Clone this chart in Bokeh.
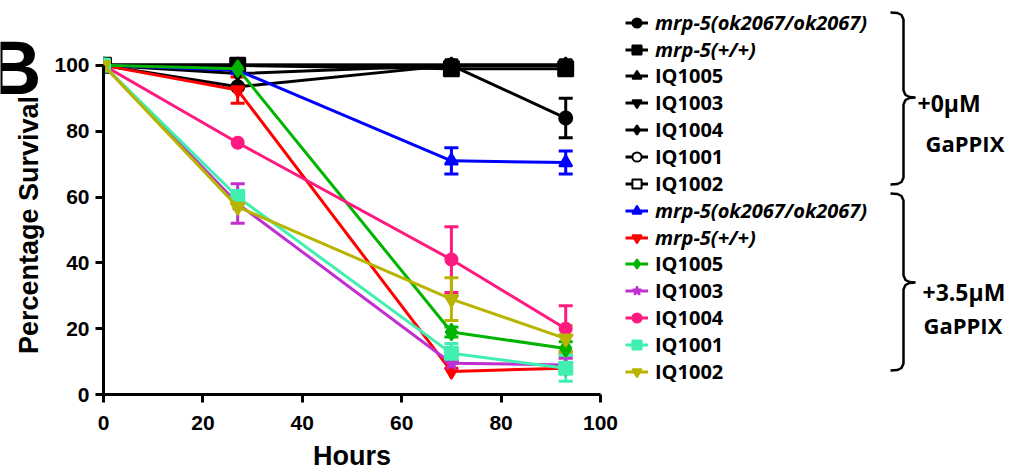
import math
from bokeh.plotting import figure
from bokeh.layouts import row
from bokeh.models import (Range1d, FixedTicker, ColumnDataSource, Whisker, TeeHead,
                          Legend, LegendItem, Label)
from bokeh.core.properties import value
from bokeh.embed import file_html
from bokeh.resources import INLINE

# ---------------- data ----------------
hours = [0, 27, 70, 93]

names_0 = ["mrp-5(ok2067/ok2067)", "mrp-5(+/+)", "IQ1005", "IQ1003", "IQ1004", "IQ1001", "IQ1002"]
names_35 = ["mrp-5(ok2067/ok2067)", "mrp-5(+/+)", "IQ1005", "IQ1003", "IQ1004", "IQ1001", "IQ1002"]

# +0 uM GaPPIX
ok2067_0 = [100, 93.5, 100, 84]
ok2067_0_err = [0, 0, 0, 6]
wt_0 = [100, 100, 99, 99]
wt_0_err = [0, 0, 0, 0]
iq1005_0 = [100, 100, 100, 100]
iq1005_0_err = [0, 0, 0, 0]
iq1003_0 = [100, 97.5, 100, 100]
iq1003_0_err = [0, 0, 0, 0]
iq1004_0 = [100, 100, 100, 100]
iq1004_0_err = [0, 0, 0, 0]
iq1001_0 = [100, 100, 100, 100]
iq1001_0_err = [0, 0, 0, 0]
iq1002_0 = [100, 100, 100, 100]
iq1002_0_err = [0, 0, 0, 0]

# +3.5 uM GaPPIX
ok2067_35 = [100, 98.5, 71, 70.5]
ok2067_35_err = [0, 0, 4, 3.5]
wt_35 = [100, 92.5, 7, 8]
wt_35_err = [0, 4, 0, 0]
iq1005_35 = [100, 99, 19, 14]
iq1005_35_err = [0, 0, 1.5, 2]
iq1003_35 = [100, 58, 9.5, 9]
iq1003_35_err = [0, 6, 0, 2]
iq1004_35 = [100, 76.5, 41, 20]
iq1004_35_err = [0, 0, 10, 7]
iq1001_35 = [100, 60, 12.5, 8]
iq1001_35_err = [0, 2, 3, 4]
iq1002_35 = [100, 57, 29, 17]
iq1002_35_err = [0, 0, 6.5, 4]

x_ticks = [0, 20, 40, 60, 80, 100]
y_ticks = [0, 20, 40, 60, 80, 100]

panel_letter = "B"
x_title = "Hours"
y_title = "Percentage Survival"
group_labels = [("+0\u00b5M", "GaPPIX"), ("+3.5\u00b5M", "GaPPIX")]

# styles: (values, errors, colour, marker, fill, size)
series_0 = [
    (ok2067_0, ok2067_0_err, "black", "circle", "black", 13),
    (wt_0, wt_0_err, "black", "square", "black", 15),
    (iq1005_0, iq1005_0_err, "black", "triangle", "black", 13),
    (iq1003_0, iq1003_0_err, "black", "inverted_triangle", "black", 13),
    (iq1004_0, iq1004_0_err, "black", "diamond", "black", 16),
    (iq1001_0, iq1001_0_err, "black", "circle", "white", 11),
    (iq1002_0, iq1002_0_err, "black", "square", "white", 12),
]
series_35 = [
    (ok2067_35, ok2067_35_err, "#0000ff", "triangle", "#0000ff", 13),
    (wt_35, wt_35_err, "#ff0000", "inverted_triangle", "#ff0000", 13),
    (iq1005_35, iq1005_35_err, "#00b400", "diamond", "#00b400", 17),
    (iq1003_35, iq1003_35_err, "#c030d0", "star", "#c030d0", 15),
    (iq1004_35, iq1004_35_err, "#ff1a80", "circle", "#ff1a80", 12),
    (iq1001_35, iq1001_35_err, "#40f0b0", "square", "#40f0b0", 13),
    (iq1002_35, iq1002_35_err, "#b8b400", "inverted_triangle", "#b8b400", 14),
]

# ---------------- layout sizes ----------------
W, H = 1018, 476
LW = 45             # left strip: panel letter + y title
MID_W = 580         # chart
RW = W - LW - MID_W # legend / brackets
FR_L, FR_R = 103, 600
FR_T, FR_B = 55, 394

def no_align(fig):
    try:
        fig.frame_align = False
    except Exception:
        pass

def bare(fig):
    fig.outline_line_color = None
    fig.grid.visible = False
    fig.background_fill_color = None
    fig.border_fill_color = None
    no_align(fig)

# ---------------- left strip ----------------
pl = figure(width=LW, height=H, output_backend="svg", toolbar_location=None,
            title=None,
            x_range=Range1d(0, LW), y_range=Range1d(0, H),
            x_axis_type=None, y_axis_type=None,
            min_border=0, min_border_left=0, min_border_right=0,
            min_border_top=0, min_border_bottom=0)
bare(pl)
pl.text(x=[-14], y=[H - 67], text=[panel_letter], text_font=value("Liberation Sans"),
        text_font_style="bold", text_font_size="76px", text_color="black",
        text_baseline="alphabetic", text_align="left")
pl.text(x=[28], y=[H - (FR_T + FR_B) / 2], text=[y_title], angle=math.pi / 2,
        text_font=value("Liberation Sans"), text_font_style="bold",
        text_font_size="27px", text_color="black",
        text_baseline="alphabetic", text_align="center")

# ---------------- main chart ----------------
p = figure(width=MID_W, height=H, output_backend="svg", toolbar_location=None,
           title=None,
           x_range=Range1d(0, 100), y_range=Range1d(0, 103),
           min_border_left=FR_L - LW, min_border_right=LW + MID_W - FR_R,
           min_border_top=FR_T, min_border_bottom=H - FR_B)
p.outline_line_color = None
p.grid.visible = False
no_align(p)

for ax in (p.xaxis[0], p.yaxis[0]):
    ax.bounds = (0, 100)
    ax.axis_line_width = 3
    ax.axis_line_color = "black"
    ax.major_tick_line_width = 3
    ax.major_tick_out = 8
    ax.major_tick_in = 0
    ax.minor_tick_line_color = None
    ax.major_label_text_font = "Liberation Sans"
    ax.major_label_text_font_style = "bold"
    ax.major_label_text_font_size = "21px"
    ax.major_label_text_color = "black"
    ax.axis_label_text_font = "Liberation Sans"
    ax.axis_label_text_font_style = "bold"
    ax.axis_label_text_font_size = "27px"
    ax.axis_label_text_color = "black"

p.xaxis.ticker = FixedTicker(ticks=x_ticks)
p.yaxis.ticker = FixedTicker(ticks=y_ticks)
p.xaxis.axis_label = x_title
p.xaxis.major_label_standoff = 13
p.yaxis.major_label_standoff = 6
p.xaxis.axis_label_standoff = 8

def draw_series(fig, vals, errs, col, mk, fill, sz):
    src = ColumnDataSource(dict(x=hours, y=vals))
    fig.line("x", "y", source=src, line_color=col, line_width=3)
    fig.scatter("x", "y", source=src, marker=mk, size=sz, line_color=col,
                fill_color=fill, line_width=2)
    if any(e > 0 for e in errs):
        ex = [h for h, e in zip(hours, errs) if e > 0]
        up = [v + e for v, e in zip(vals, errs) if e > 0]
        lo = [v - e for v, e in zip(vals, errs) if e > 0]
        wsrc = ColumnDataSource(dict(x=ex, upper=up, lower=lo))
        fig.add_layout(Whisker(source=wsrc, base="x", upper="upper", lower="lower",
                               line_color=col, line_width=3,
                               upper_head=TeeHead(size=14, line_color=col, line_width=3),
                               lower_head=TeeHead(size=14, line_color=col, line_width=3)))

# black group drawn so that the first entries end up on top, coloured group above it
for s in reversed(series_0):
    draw_series(p, *s)
for s in series_35:
    draw_series(p, *s)

# ---------------- legend / bracket column ----------------
X0 = LW + MID_W
p2 = figure(width=RW, height=H, output_backend="svg", toolbar_location=None,
            title=None,
            x_range=Range1d(X0, W), y_range=Range1d(H, 0),
            x_axis_type=None, y_axis_type=None,
            min_border=0, min_border_left=0, min_border_right=0,
            min_border_top=0, min_border_bottom=0)
bare(p2)

# legend samples: renderers styled like the series, with a point kept off-screen
off = dict(x=[-10000], y=[-10000])
items = []
for (vals, errs, col, mk, fill, sz), lab in zip(series_0 + series_35, names_0 + names_35):
    lr = p2.line(x=off["x"], y=off["y"], line_color=col, line_width=3)
    sr = p2.scatter(x=off["x"], y=off["y"], marker=mk, size=sz, line_color=col,
                    fill_color=fill, line_width=2)
    items.append(LegendItem(label=lab, renderers=[lr, sr]))

ROW = 27
def make_legend(its, center_first, style):
    top = center_first - ROW / 2
    bottom = top + ROW * len(its)
    lg = Legend(items=its, location=(0, H - bottom),
                orientation="vertical", padding=0, margin=0, spacing=0,
                glyph_width=23, glyph_height=ROW, label_height=ROW,
                label_standoff=7, border_line_color=None,
                background_fill_alpha=0,
                label_text_font="Open Sans", label_text_font_size="20px",
                label_text_font_style=style, label_text_color="black")
    p2.add_layout(lg)

make_legend(items[0:2], 22, "bold italic")
make_legend(items[2:7], 75, "bold")
make_legend(items[7:9], 210, "bold italic")
make_legend(items[9:14], 263, "bold")

def bracket(top, tip, bottom):
    xl, xv, xt = 890, 903, 915
    pts = [(xl, top), (897, top + 0.5), (901, top + 2.5), (xv, top + 7),
           (xv, tip - 7), (905, tip - 2.5), (909, tip - 0.5), (xt, tip),
           (909, tip + 0.5), (905, tip + 2.5), (xv, tip + 7),
           (xv, bottom - 7), (901, bottom - 2.5), (897, bottom - 0.5), (xl, bottom)]
    return [a for a, b in pts], [b for a, b in pts]

bx1, by1 = bracket(12, 97, 184)
bx2, by2 = bracket(193, 282, 370)
p2.multi_line([bx1, bx2], [by1, by2], line_color="black", line_width=2.5)

def add_text(txt, px, py_base, size="22px"):
    p2.add_layout(Label(x=px, y=py_base, text=txt, text_font="Open Sans",
                        text_font_style="bold", text_font_size=size,
                        text_color="black", text_baseline="alphabetic",
                        text_align="left"))

add_text(group_labels[0][0], 917, 102, "23px")
add_text(group_labels[0][1], 925, 142)
add_text(group_labels[1][0], 922, 291, "23px")
add_text(group_labels[1][1], 923, 324)

layout = row(pl, p, p2)
open("out.html", "w").write(file_html(layout, INLINE))
